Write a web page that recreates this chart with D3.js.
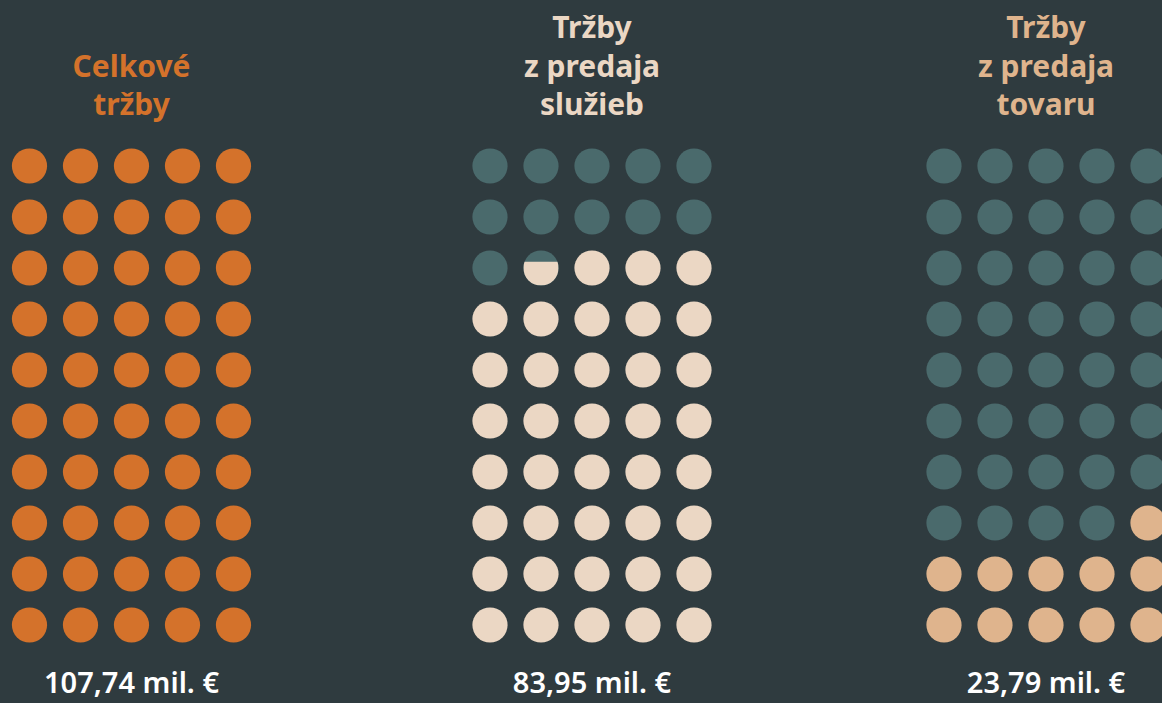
<!DOCTYPE html>
<html>
<head>
<meta charset="utf-8">
<script src="https://cdn.jsdelivr.net/npm/d3@7"></script>
<style>
  html, body { margin: 0; padding: 0; background: #2f3b3f; }
  svg { display: block; }
</style>
</head>
<body>
<div id="chart"></div>
<script>
let width = 1162,
    height = 703;

// data
const panels = ["celkove", "sluzby", "tovar"];
const titles = [["Celkové", "tržby"], ["Tržby", "z predaja", "služieb"], ["Tržby", "z predaja", "tovaru"]];
const amounts = ["107,74 mil. €", "83,95 mil. €", "23,79 mil. €"];
const filledDots = [50, 38.68, 11]; // out of 50 dots (partial dot filled from the bottom)
const fillColors = ["#d4722b", "#ebd7c4", "#dfb48d"];

const emptyColor = "#4a6a6c",
      cols = 5, rows = 10, r = 17.6;

const svg = d3.select("#chart")
    .append("svg")
    .attr("width", width)
    .attr("height", height)
    .attr("viewBox", [0, 0, width, height]);

svg.append("rect").attr("width", width).attr("height", height).attr("fill", "#2f3b3f");

// panel centers
let px = d3.scaleOrdinal().domain(panels).range([131.5, 592, 1046]);
// column / row offsets inside a panel
let cx = d3.scaleLinear().domain([0, cols - 1]).range([-102, 102]);
let cy = d3.scaleLinear().domain([0, rows - 1]).range([166, 625]);

const defs = svg.append("defs");

panels.forEach((p, i) => {
  const g = svg.append("g").attr("transform", `translate(${px(p)},0)`);

  // dots: filling starts at bottom-right, goes left, then up
  const dots = d3.range(cols * rows).map(k => {
    const frac = Math.max(0, Math.min(1, filledDots[i] - k));
    return { k, row: rows - 1 - Math.floor(k / cols), col: cols - 1 - (k % cols), frac };
  });

  g.selectAll("circle.base")
    .data(dots)
    .join("circle")
    .attr("class", "base")
    .attr("cx", d => cx(d.col))
    .attr("cy", d => cy(d.row))
    .attr("r", r)
    .attr("fill", d => d.frac >= 1 ? fillColors[i] : emptyColor);

  // partially filled dots
  dots.filter(d => d.frac > 0 && d.frac < 1).forEach(d => {
    const id = `clip-${i}-${d.k}`;
    defs.append("clipPath").attr("id", id)
      .append("rect")
      .attr("x", px(p) + cx(d.col) - r)
      .attr("y", cy(d.row) + r - 2 * r * d.frac)
      .attr("width", 2 * r)
      .attr("height", 2 * r * d.frac);
    svg.append("circle")
      .attr("cx", px(p) + cx(d.col))
      .attr("cy", cy(d.row))
      .attr("r", r)
      .attr("fill", fillColors[i])
      .attr("clip-path", `url(#${id})`);
  });

  // title, bottom aligned
  const lines = titles[i];
  g.append("text")
    .attr("text-anchor", "middle")
    .attr("fill", fillColors[i])
    .style("font-family", "'Noto Sans', sans-serif")
    .style("font-weight", 700)
    .style("font-size", "30px")
    .selectAll("tspan")
    .data(lines)
    .join("tspan")
    .attr("x", 0)
    .attr("y", (d, j) => 115 - (lines.length - 1 - j) * 38.5)
    .text(d => d);

  // amount
  g.append("text")
    .attr("x", 0)
    .attr("y", 693)
    .attr("text-anchor", "middle")
    .attr("fill", "#ffffff")
    .style("font-family", "'Noto Sans', sans-serif")
    .style("font-weight", 600)
    .style("font-size", "29px")
    .text(amounts[i]);
});
</script>
</body>
</html>
